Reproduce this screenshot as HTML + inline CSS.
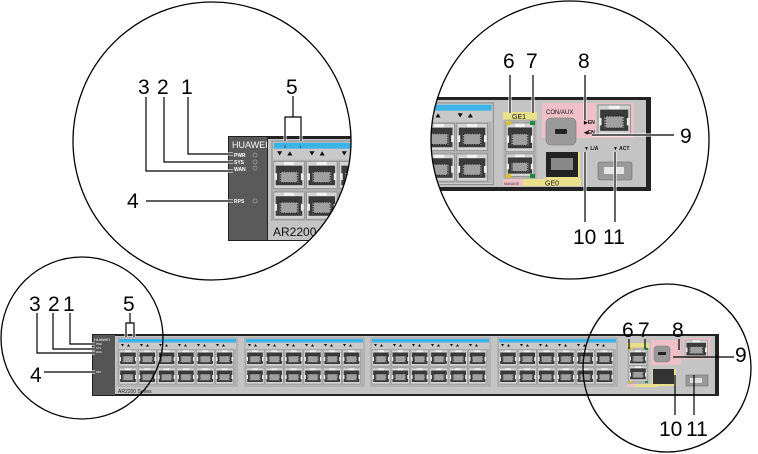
<!DOCTYPE html>
<html><head><meta charset="utf-8"><style>
html,body{margin:0;padding:0;background:#fff;width:758px;height:454px;overflow:hidden}
svg{display:block}
text{font-family:"Liberation Sans",sans-serif}
</style></head><body>
<svg width="758" height="454" viewBox="0 0 758 454" xmlns="http://www.w3.org/2000/svg">
<defs>
  <g id="port">
    <rect x="0" y="0" width="18" height="16" fill="#d4d4d4" stroke="#8a8a8a" stroke-width="0.5"/>
    <rect x="1.2" y="2.5" width="15.6" height="11.5" fill="#3a3a3a"/>
    <rect x="3.5" y="6" width="11" height="6.5" fill="#a0a0a0"/>
    <rect x="4" y="6" width="10" height="6.5" fill="none" stroke="#222" stroke-width="0.7" stroke-dasharray="0.7 0.7"/>
    <rect x="0.5" y="7" width="1.5" height="4" fill="#eee"/>
    <rect x="16" y="7" width="1.5" height="4" fill="#eee"/>
    <rect x="6" y="0.3" width="6" height="2" fill="#f2f2f2"/>
  </g>
  <g id="grp">
    <rect x="0" y="0" width="119" height="48" fill="#c9c9c9" stroke="#888" stroke-width="0.6"/>
    <rect x="1" y="1" width="117" height="3.5" fill="#3bb3e6"/>
    <g fill="#111">
      <path d="M3,6 h3 l-1.5,2.5z M9,8.5 h3 l-1.5,-2.5z"/>
      <path d="M22,6 h3 l-1.5,2.5z M28,8.5 h3 l-1.5,-2.5z"/>
      <path d="M41,6 h3 l-1.5,2.5z M47,8.5 h3 l-1.5,-2.5z"/>
      <path d="M60,6 h3 l-1.5,2.5z M66,8.5 h3 l-1.5,-2.5z"/>
      <path d="M79,6 h3 l-1.5,2.5z M85,8.5 h3 l-1.5,-2.5z"/>
      <path d="M98,6 h3 l-1.5,2.5z M104,8.5 h3 l-1.5,-2.5z"/>
    </g>
    <rect x="1" y="11" width="117" height="36" fill="#b0b0b0"/>
    <use href="#port" x="1" y="12"/><use href="#port" x="20.3" y="12"/><use href="#port" x="39.6" y="12"/>
    <use href="#port" x="58.9" y="12"/><use href="#port" x="78.2" y="12"/><use href="#port" x="97.5" y="12"/>
    <use href="#port" x="1" y="30"/><use href="#port" x="20.3" y="30"/><use href="#port" x="39.6" y="30"/>
    <use href="#port" x="58.9" y="30"/><use href="#port" x="78.2" y="30"/><use href="#port" x="97.5" y="30"/>
  </g>
  <clipPath id="c1"><circle cx="212" cy="141" r="139"/></clipPath>
  <clipPath id="c2"><circle cx="570" cy="140" r="139"/></clipPath>
</defs>

<!-- ===== Bottom full device ===== -->
<rect x="92" y="334" width="627" height="62" fill="#222"/>
<rect x="93" y="335" width="22" height="60" fill="#555"/>
<rect x="115" y="336" width="600" height="58" fill="#c4c4c4"/>
<text x="94" y="341" font-size="4" fill="#fff">HUAWEI</text>
<text x="96" y="345" font-size="2.5" fill="#fff">PWR</text>
<text x="96" y="349" font-size="2.5" fill="#fff">SYS</text>
<text x="96" y="353" font-size="2.5" fill="#fff">WAN</text>
<text x="96" y="373" font-size="2.5" fill="#fff">RPS</text>
<use href="#grp" x="118" y="338"/>
<use href="#grp" x="245" y="338"/>
<use href="#grp" x="371" y="338"/>
<use href="#grp" x="498" y="338"/>
<text x="118" y="393" font-size="5" fill="#222">AR2200 Series</text>
<!-- right section -->
<rect x="627" y="343" width="22" height="5" fill="#e8e08a"/>
<rect x="628" y="348" width="20" height="36" fill="#bbb" stroke="#999" stroke-width="0.5"/>
<use href="#port" x="0" y="0" transform="translate(629,350) scale(1 0.95)"/>
<use href="#port" x="0" y="0" transform="translate(629,366) scale(1 0.95)"/>
<rect x="629" y="348" width="3" height="2" fill="#e0c020"/><rect x="645" y="348" width="3" height="2" fill="#1e8a3a"/>
<rect x="629" y="381" width="3" height="2" fill="#e0c020"/><rect x="645" y="381" width="3" height="2" fill="#1e8a3a"/>
<rect x="627" y="384" width="8" height="3" fill="#f0c0c8"/><rect x="635" y="384" width="23" height="3" fill="#e8e08a"/>
<rect x="651" y="340" width="30" height="25" fill="#f0c0c8"/>
<rect x="683" y="338" width="27" height="21" fill="#f0c0c8"/>
<use href="#port" x="0" y="0" transform="translate(685,340) scale(1.25 1.1)"/>
<rect x="654" y="346" width="16" height="16" rx="3" fill="#999" stroke="#777" stroke-width="0.5"/>
<rect x="658" y="352" width="8" height="3" fill="#222"/>
<rect x="652" y="369" width="24" height="17" fill="#e8e08a"/>
<rect x="653" y="369" width="21" height="15" fill="#333"/>
<rect x="686" y="375" width="22" height="11" fill="#999" stroke="#666" stroke-width="0.5"/>
<rect x="690" y="378" width="12" height="5" fill="#ddd"/>

<!-- bottom-left callouts -->
<circle cx="82" cy="338" r="81" fill="none" stroke="#000" stroke-width="1.3"/>
<g font-size="21" fill="#000">
  <text x="29" y="311">3</text><text x="48" y="311">2</text><text x="63" y="311">1</text>
  <text x="123" y="311">5</text><text x="30" y="382">4</text>
</g>
<g stroke="#fff" stroke-width="3" fill="none">
  <path d="M70,313 V344 H95"/><path d="M53,313 V349 H95"/><path d="M37,313 V353 H95"/><path d="M44,372 H95"/>
  <path d="M130,313 V323 M126,337 V323 H134 V337"/>
</g>
<g stroke="#000" stroke-width="1.2" fill="none">
  <path d="M70,313 V344 H95"/><path d="M53,313 V349 H95"/><path d="M37,313 V353 H95"/><path d="M44,372 H95"/>
  <path d="M130,313 V323 M126,337 V323 H134 V337"/>
</g>

<!-- bottom-right callouts -->
<circle cx="667" cy="368" r="84" fill="none" stroke="#000" stroke-width="1.3"/>
<g font-size="21" fill="#000">
  <text x="622" y="337">6</text><text x="638" y="337">7</text><text x="672" y="337">8</text>
  <text x="735" y="362">9</text><text x="659" y="436">10</text><text x="686" y="436">11</text>
</g>
<g stroke="#000" stroke-width="1.2" fill="none">
  <path d="M629,339 V349"/><path d="M645,339 V349"/><path d="M679,339 V350"/>
  <path d="M673,357 H734"/><path d="M675,375 V415"/><path d="M694,375 V415"/>
</g>

<!-- ===== Top-left zoom ===== -->
<g clip-path="url(#c1)">
  <rect x="228" y="136" width="140" height="105" fill="#222"/>
  <rect x="229" y="137" width="38" height="103" fill="#5a5a5a"/>
  <rect x="268" y="139" width="100" height="101" fill="#c4c4c4"/>
  <use href="#grp" x="0" y="0" transform="translate(272,141) scale(1.7)"/>
  <rect x="270" y="221" width="100" height="18" fill="#c4c4c4"/>
  <text x="273" y="236" font-size="12" fill="#111">AR2200 Series</text>
  <text x="232" y="148" font-size="9" fill="#fff">HUAWEI</text>
  <g font-size="5" fill="#fff" font-weight="bold">
    <text x="234" y="157">PWR</text><text x="234" y="164">SYS</text><text x="234" y="171">WAN</text><text x="234" y="203">RPS</text>
  </g>
  <g fill="none" stroke="#999" stroke-width="0.8">
    <circle cx="255" cy="155" r="2"/><circle cx="255" cy="162" r="2"/><circle cx="255" cy="168" r="2"/><circle cx="255" cy="201" r="2"/>
  </g>
  <g font-size="4" fill="#111"><text x="284" y="148">0</text><text x="299" y="148">1</text></g>
</g>
<circle cx="212" cy="141" r="139" fill="none" stroke="#000" stroke-width="1.3"/>
<g font-size="21" fill="#000">
  <text x="138" y="94">3</text><text x="157" y="94">2</text><text x="181" y="94">1</text>
  <text x="286" y="94">5</text><text x="127" y="208">4</text>
</g>
<g stroke="#fff" stroke-width="3" fill="none">
  <path d="M188,97 V154 H233"/><path d="M164,97 V162 H233"/><path d="M146,97 V171 H233"/><path d="M146,201 H233"/>
  <path d="M293,96 V117 M285,141 V117 H301 V141"/>
</g>
<g stroke="#000" stroke-width="1.2" fill="none">
  <path d="M188,97 V154 H233"/><path d="M164,97 V162 H233"/><path d="M146,97 V171 H233"/><path d="M146,201 H233"/>
  <path d="M293,96 V117 M285,141 V117 H301 V141"/>
</g>

<!-- ===== Top-right zoom ===== -->
<g clip-path="url(#c2)">
  <rect x="420" y="97" width="231" height="94" fill="#222"/>
  <rect x="420" y="100" width="226" height="87" fill="#c4c4c4"/>
  <use href="#grp" x="0" y="0" transform="translate(291,103) scale(1.7)"/>
  <rect x="503" y="112" width="34" height="8" fill="#e8e08a"/>
  <text x="512" y="119" font-size="7" fill="#111">GE1</text>
  <rect x="504" y="120" width="32" height="59" fill="#b5b5b5" stroke="#999" stroke-width="0.5"/>
  <use href="#port" x="0" y="0" transform="translate(506,123) scale(1.55 1.8)"/>
  <use href="#port" x="0" y="0" transform="translate(506,154) scale(1.55 1.4)"/>
  <rect x="506" y="121" width="5" height="4" fill="#e0c020"/><rect x="530" y="121" width="5" height="4" fill="#1e8a3a"/>
  <rect x="506" y="174" width="5" height="4" fill="#e0c020"/><rect x="530" y="174" width="5" height="4" fill="#1e8a3a"/>
  <rect x="503" y="179" width="20" height="7" fill="#f0c0c8"/>
  <text x="504" y="185" font-size="3.5" fill="#333">MANAGE</text>
  <rect x="523" y="179" width="58" height="7" fill="#e8e08a"/>
  <text x="545" y="185.5" font-size="7" fill="#111">GE0</text>
  <rect x="542" y="103" width="92" height="35" fill="#f0c0c8"/>
  <text x="546" y="114" font-size="6" fill="#111">CON/AUX</text>
  <rect x="546" y="118" width="30" height="27" rx="5" fill="#9a9a9a" stroke="#777" stroke-width="0.6"/>
  <rect x="555" y="129" width="12" height="5" rx="1" fill="#222"/>
  <rect x="596" y="104" width="35" height="31" fill="#c4c4c4"/>
  <use href="#port" x="0" y="0" transform="translate(598,105) scale(1.8 1.85)"/>
  <g font-size="5" fill="#111" font-weight="bold"><text x="584" y="124">▶EN</text><text x="584" y="134">◀EN</text>
  <text x="584" y="150">▼ L/A</text><text x="613" y="150">▼ ACT</text></g>
  <rect x="546" y="152" width="34" height="27" fill="#e8e08a"/>
  <rect x="546" y="152" width="32" height="25" fill="#222"/>
  <rect x="551" y="158" width="22" height="12" fill="#888"/>
  <rect x="598" y="162" width="34" height="18" rx="2" fill="#9a9a9a" stroke="#666" stroke-width="0.6"/>
  <rect x="604" y="167" width="20" height="7" fill="#e5e5e5"/>
</g>
<circle cx="570" cy="140" r="139" fill="none" stroke="#000" stroke-width="1.3"/>
<g font-size="21" fill="#000">
  <text x="503" y="68">6</text><text x="526" y="68">7</text><text x="578" y="68">8</text>
  <text x="680" y="143">9</text><text x="573" y="244">10</text><text x="603" y="244">11</text>
</g>
<g stroke="#fff" stroke-width="3" fill="none">
  <path d="M510,75 V113"/><path d="M533,75 V113"/><path d="M585,75 V120"/>
  <path d="M592,135 H674"/><path d="M585,152 V222"/><path d="M615,152 V222"/>
</g>
<g stroke="#000" stroke-width="1.2" fill="none">
  <path d="M510,75 V113"/><path d="M533,75 V113"/><path d="M585,75 V120"/>
  <path d="M592,135 H674"/><path d="M585,152 V222"/><path d="M615,152 V222"/>
</g>
</svg>
</body></html>
